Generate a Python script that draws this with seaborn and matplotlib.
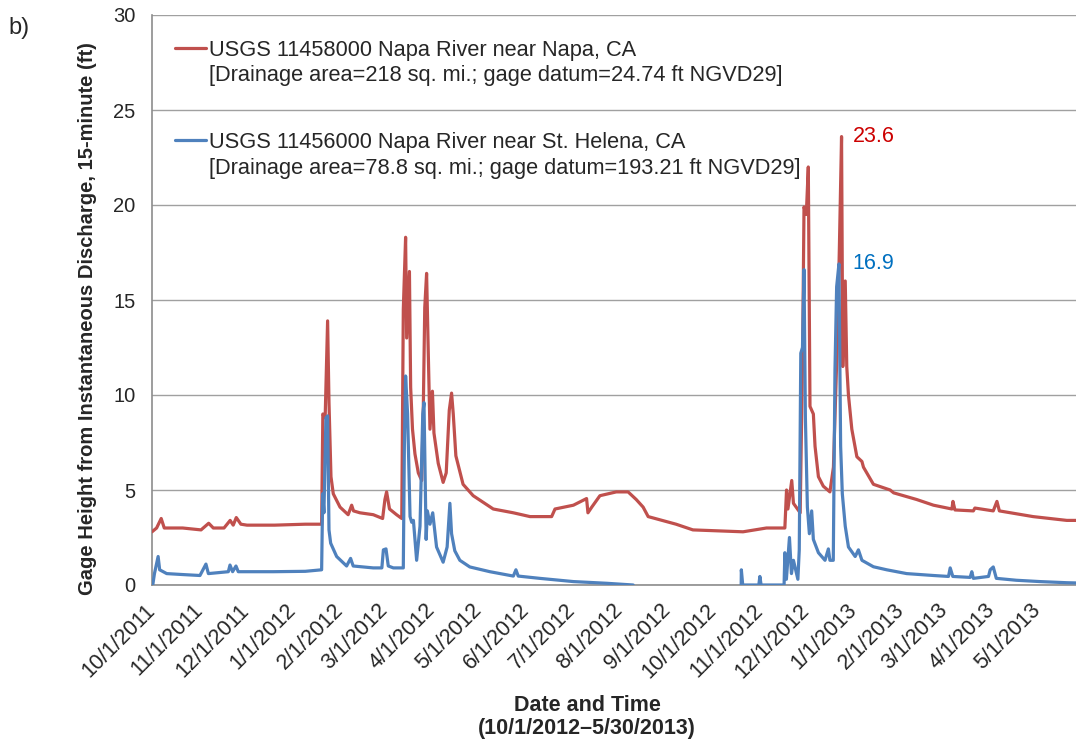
import numpy as np
import pandas as pd
import matplotlib
matplotlib.use('Agg')
import matplotlib.pyplot as plt
import matplotlib.dates as mdates
from matplotlib.lines import Line2D
import seaborn as sns

napa_days = [0, 3, 6, 8, 20, 32, 37, 40, 47, 51, 53, 55, 58, 62, 80, 100,
             110.7, 111.5, 113, 114.6, 115.5, 116.8, 118.3, 122.7, 128, 130.3,
             131.5, 135.7, 144.4, 150.5, 152, 153.1, 155, 159.6, 163,
             164, 165.5, 166.2, 168, 168.8, 170, 171.6, 173.8, 176, 177, 178,
             179.2, 180.3, 181.4, 183, 184, 186.8, 190, 192, 194, 195.5, 196.6,
             198.3, 203, 209.6, 222.7, 235.8, 246.7, 260.8, 263, 275, 283.6,
             284.5, 287, 292.3, 303, 310.7, 316, 320.5, 323.8, 342, 353, 385.7,
             401, 413, 414.1, 415, 417.5, 418.6, 423, 424.6, 425.5, 427, 428.3,
             429.4, 431.6, 432.7, 434.9, 438.1, 442.4, 444.7, 447.3, 448.6, 450,
             450.8, 452.4, 453.4, 454.5, 456.7, 460, 463.3, 464.3, 470.8, 481.7,
             484, 499, 510, 522, 522.7, 524, 536, 537, 549, 551.4, 553, 575,
             597, 607]
napa_ft = [2.8, 3.0, 3.5, 3.0, 3.0, 2.9, 3.25, 3.0, 3.0, 3.4, 3.15, 3.55, 3.2,
           3.15, 3.15, 3.2,
           3.2, 9.0, 8.8, 13.9, 9.6, 5.7, 4.8, 4.1, 3.7, 4.2,
           3.9, 3.8, 3.7, 3.5, 4.5, 4.9, 4.0, 3.7, 3.5,
           14.5, 18.3, 13.0, 16.5, 10.4, 8.2, 6.9, 5.9, 5.5, 9.0, 14.6,
           16.4, 12.2, 8.2, 10.2, 8.0, 6.4, 5.4, 5.9, 9.2, 10.1, 9.0,
           6.8, 5.3, 4.7, 4.0, 3.8, 3.6, 3.6, 4.0, 4.2, 4.55,
           3.8, 4.1, 4.7, 4.9, 4.9, 4.5, 4.1, 3.6, 3.2, 2.9, 2.8,
           3.0, 3.0, 5.0, 4.0, 5.5, 4.3, 3.8, 12.2, 19.9, 19.5, 22.0,
           9.4, 9.0, 7.3, 5.7, 5.2, 4.9, 6.2, 13.0, 17.8, 23.6,
           11.5, 16.0, 11.5, 10.0, 8.2, 6.75, 6.5, 6.2, 5.3, 5.0,
           4.85, 4.5, 4.2, 4.0, 4.4, 3.95, 3.9, 4.05, 3.9, 4.4, 3.9, 3.6,
           3.4, 3.4]

helena_days = [0.5, 1.6, 4, 5, 9.6, 20, 31.3, 35.2, 36.8, 49.8, 50.9, 52.6,
               54.8, 56.3, 79, 100, 110.7, 111.4, 112.2, 113.5, 114.6, 115.5,
               116.6, 120.5, 127, 129.6, 131.3, 144.4, 150, 151, 152.7, 154.2,
               157.5, 164, 164.7, 165.5, 166.8, 168.4, 169.5, 170.6, 172.7,
               174.9, 176.7, 177.5, 178.9, 179.7, 181.4, 183.2, 185.7, 190,
               192.6, 194.4, 195.5, 197.6, 200.9, 207.4, 220.5, 235.8, 237.5,
               239, 253, 275, 296.8, 314,
               350,
               384.5, 384.6, 385.5, 396, 396.7, 397.5, 412.5, 413, 414, 416,
               417.3, 418.6, 421.5, 422.4, 423.4, 424.5, 425.5, 426.4, 427.7,
               429, 430.5, 431.6, 434.9, 439.2, 441.4, 442.4, 444.6, 445.7,
               446.8, 448.3, 449.4, 450.5, 452.4, 454.5, 458.9, 461, 463.3,
               470.8, 479.5, 492.5, 510, 519.8, 520.9, 522.6, 533.9, 535, 536,
               545.9, 547, 549, 551, 564, 579.5, 597, 607]
helena_ft = [0.0, 0.6, 1.5, 0.8, 0.6, 0.55, 0.5, 1.1, 0.6, 0.7, 1.05, 0.7,
             1.0, 0.7, 0.7, 0.72, 0.8, 4.8, 3.8, 8.8, 8.9, 2.9,
             2.2, 1.5, 1.0, 1.4, 1.0, 0.9, 0.9, 1.85, 1.9, 1.0,
             0.9, 0.9, 7.3, 11.0, 9.0, 3.6, 3.3, 3.4, 1.3,
             3.1, 9.0, 9.6, 2.4, 3.9, 3.2, 3.8, 2.0, 1.2,
             2.0, 4.3, 2.7, 1.8, 1.3, 0.95, 0.7, 0.47, 0.8,
             0.47, 0.35, 0.18, 0.09, 0.0,
             np.nan,  # no record, Aug-Oct 2012
             0.0, 0.8, 0.0, 0.0, 0.45, 0.0, 0.0, 1.7, 0.3, 2.5,
             0.6, 1.3, 0.3, 1.85, 12.2, 12.5, 16.6, 8.8, 4.1,
             2.7, 3.9, 2.4, 1.7, 1.3, 1.9, 1.3, 1.3, 11.3,
             15.7, 16.9, 7.3, 4.8, 3.1, 2.0, 1.5, 1.85, 1.3,
             0.96, 0.8, 0.6, 0.5, 0.45, 0.9, 0.45, 0.4, 0.7, 0.35,
             0.45, 0.8, 0.95, 0.35, 0.25, 0.18, 0.12, 0.1]

napa_label = ['USGS 11458000 Napa River near Napa, CA',
              '[Drainage area=218 sq. mi.; gage datum=24.74 ft NGVD29]']
helena_label = ['USGS 11456000 Napa River near St. Helena, CA',
                '[Drainage area=78.8 sq. mi.; gage datum=193.21 ft NGVD29]']

napa_color = '#C0504D'
helena_color = '#4F81BD'

sns.set_style('white')
plt.rcParams['font.family'] = ['Liberation Sans', 'DejaVu Sans']

start = pd.Timestamp('2011-10-01')


def to_frame(days, ft):
    df = pd.DataFrame({'day': days, 'ft': ft})
    df['seg'] = df['ft'].isna().cumsum()
    df = df.dropna().copy()
    df['date'] = start + pd.to_timedelta(df['day'], unit='D')
    return df


napa = to_frame(napa_days, napa_ft)
helena = to_frame(helena_days, helena_ft)

fig = plt.figure(figsize=(10.76, 7.44), dpi=100)
ax = fig.add_axes([152 / 1076, 1 - 585 / 744, 924 / 1076, 570 / 744])

sns.lineplot(data=napa, x='date', y='ft', units='seg', estimator=None,
             sort=False, color=napa_color, lw=2.3, ax=ax, zorder=3)
sns.lineplot(data=helena, x='date', y='ft', units='seg', estimator=None,
             sort=False, color=helena_color, lw=2.3, ax=ax, zorder=4)

# peak labels
for df, col, dx in [(napa, '#CC0000', 8), (helena, '#0070C0', 10)]:
    pk = df.loc[df['ft'].idxmax()]
    ax.annotate(f"{pk['ft']:.1f}", xy=(pk['date'], pk['ft']), xytext=(dx, 0),
                textcoords='offset points', va='center', ha='left',
                color=col, fontsize=15.5)

ax.set_ylim(0, 30)
ax.set_yticks(range(0, 31, 5))
ax.set_xlim(start, start + pd.Timedelta(days=603))
ax.xaxis.set_major_locator(mdates.MonthLocator())
ax.xaxis.set_major_formatter(plt.FuncFormatter(
    lambda v, p: '{d.month}/{d.day}/{d.year}'.format(d=mdates.num2date(v))))

ax.grid(axis='y', color='#A0A0A0', lw=1.0)
ax.grid(axis='x', visible=False)
for s in ['top', 'right']:
    ax.spines[s].set_visible(False)
for s in ['left', 'bottom']:
    ax.spines[s].set_color('#8C8C8C')
    ax.spines[s].set_linewidth(1.2)
ax.tick_params(axis='both', direction='out', length=6, color='#8C8C8C', width=1)
ax.tick_params(axis='y', pad=6, labelsize=14.5)
ax.tick_params(axis='x', pad=10, labelsize=15.5)
plt.setp(ax.get_xticklabels(), rotation=45, ha='right', va='center',
         rotation_mode='anchor')

ax.set_xlabel('Date and Time\n(10/1/2012\u20135/30/2013)', fontsize=15.5,
              fontweight='bold', linespacing=1.1)
ax.xaxis.set_label_coords(0.471, -0.193)
ax.set_ylabel('Gage Height from Instantaneous Discharge, 15-minute (ft)',
              fontsize=14.5, fontweight='bold')
ax.yaxis.set_label_coords(-0.0595, 0.468)

fig.text(8 / 1076, 1 - 28 / 744, 'b)', fontsize=17, va='center', ha='left')

# legend: key line sits on the first line of each two-line entry
blank = Line2D([], [], color='none')
leg_kw = dict(loc='upper left', frameon=False, fontsize=15.7, borderpad=0,
              borderaxespad=0, handlelength=1.4, handletextpad=0.15,
              labelspacing=0.22)
leg1 = ax.legend([Line2D([], [], color=napa_color, lw=2.3), blank], napa_label,
                 bbox_to_anchor=(0.025, 0.957), **leg_kw)
ax.add_artist(leg1)
ax.legend([Line2D([], [], color=helena_color, lw=2.3), blank], helena_label,
          bbox_to_anchor=(0.025, 0.795), **leg_kw)

fig.savefig('out.png', dpi=100)
